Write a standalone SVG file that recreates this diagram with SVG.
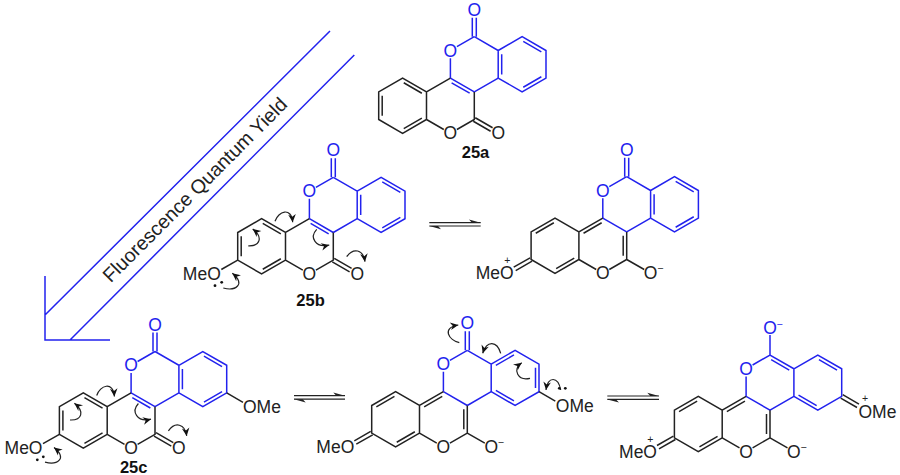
<svg xmlns="http://www.w3.org/2000/svg" width="900" height="475" viewBox="0 0 900 475">
<style>
.b{fill:none;stroke:#2222ee;stroke-width:1.5}
.k{fill:none;stroke:#222;stroke-width:1.5}
.c{fill:none;stroke:#222;stroke-width:1.2;marker-end:url(#h)}
.l{fill:none;stroke:#2222ee;stroke-width:1.5}
.e{stroke:#222;stroke-width:1.2;fill:none}
text{font-family:"Liberation Sans",Arial,sans-serif;font-size:17.5px;fill:#222}
.tb{fill:#2222ee}
.s{font-size:10.5px}
.n{font-weight:bold;font-size:16.5px;text-anchor:middle;fill:#111}
.m{text-anchor:middle}
.d{fill:#111}
</style>
<defs>
<marker id="h" markerUnits="userSpaceOnUse" markerWidth="12" markerHeight="12" viewBox="-10 -6 12 12" refX="0" refY="0" orient="auto"><path d="M0 0L-8 -3.800L-5.500 0L-8 3.800Z" fill="#111" stroke="none"/></marker>
<path id="co" d="M-2 0V-19M2 0V-19"/>
<path id="lac" d="M-17.4 10L0 0M-23.9 21.5V41.4M0 55.2L23.9 41.4"/>
<path id="ra" d="M0 0L23.9 13.8V41.4M27.4 17.5V37.7M23.9 13.8L47.8 0L71.7 13.8V41.4L47.8 55.2L23.9 41.4M48.95 4.66L67.05 15.14M67.05 40.06L48.95 50.54"/>
<path id="rq" d="M0 0L23.9 13.8V41.4M23.9 13.8L47.8 0L71.7 13.8V41.4L47.8 55.2L23.9 41.4M28.55 15.14L46.65 4.66M68.2 17.5V37.7M46.65 50.54L28.55 40.06"/>
<path id="bn" d="M-23.9 41.4L-47.8 55.2L-71.7 41.4L-95.6 55.2V82.8L-71.7 96.6L-47.8 82.8V55.2M-52.45 56.54L-70.55 46.06M-92.1 59V79M-70.55 91.94L-52.45 81.46M-47.8 82.8L-30.5 92.8M-17.4 92.8L0 82.8V55.2M1 81.07L18.3 91.07M-1 84.53L16.3 94.53"/>
<path id="bz" d="M-23.9 41.4L-47.8 55.2L-71.7 41.4L-95.6 55.2V82.8L-71.7 96.6L-47.8 82.8V55.2M-43.15 56.54L-25.05 46.06M-72.85 46.06L-90.95 56.54M-70.55 91.94L-52.45 81.46M-47.8 82.8L-30.5 92.8M-17.4 92.8L0 82.8V55.2M-3.5 59V79M0 82.8L17.5 92.8"/>
<path id="dbl" d="M-94.6 84.5L-111 93.900M-96.6 81.1L-113 90.500"/>
<path id="arL" d="M-58.3 44C-55 34 -42 29 -40.6 45"/>
<path id="arR" d="M-85 68.5C-73 69 -70 60 -80.6 51.700"/>
<path id="arI" d="M-16.6 52C-24 60 -18 71 -4 67.7"/>
<path id="arC" d="M13.4 79.4C20 70 30 72 31.7 84.4"/>
<path id="arO" d="M-110 110.700C-98 114 -87 107 -101 96"/>
</defs>

<g id="connectors">
<path class="l" d="M330 31L45 315M354.300 55L70 340M45 276V340H110"/>
<path class="e" d="M429.300 222.700H480.700M429.300 226H480.700"/>
<path d="M480.700 222.700L469 219.500L472 222.700ZM429.300 226L441 229.200L438 226Z" fill="#222"/>
<path class="e" d="M294 395.700H345M294 399.200H345"/>
<path d="M345 395.700L333.300 392.500L336.300 395.700ZM294 399.200L305.700 402.400L302.700 399.200Z" fill="#222"/>
<path class="e" d="M607.300 396H659M607.300 399.400H659"/>
<path d="M659 396L647.300 392.800L650.300 396ZM607.300 399.400L619 402.600L616 399.400Z" fill="#222"/>
<g transform="translate(333.300 177.300)"><use href="#arL" class="c"/><use href="#arR" class="c"/><use href="#arI" class="c"/><use href="#arC" class="c"/><use href="#arO" class="c"/></g>
<g transform="translate(155 351.500)"><use href="#arL" class="c"/><use href="#arR" class="c"/><use href="#arI" class="c"/><use href="#arC" class="c"/><use href="#arO" class="c"/></g>
<path class="c" d="M459.300 342.700C449 340 441 328 458.300 325"/>
<path class="c" d="M500.700 353.300C497 341 487 340 482.700 353.300"/>
<path class="c" d="M530 378.300C518 381 512 370 521.700 362.700"/>
<path class="c" d="M560.700 390C558 376 548 376 546 390"/>
</g>

<g id="axis-label">
<text transform="translate(195 190) rotate(-45)" y="6.500" class="m" style="font-size:19.600px">Fluorescence Quantum Yield</text>
</g>

<g id="m25a" transform="translate(474.300 36.700)">
<use href="#co" class="b"/><use href="#lac" class="b"/><use href="#ra" class="b"/>
<path class="b" d="M-23.9 41.4L0 55.2M-22.7 46.1L-4.65 56.5"/>
<use href="#bn" class="k"/>
<text class="tb m" y="-21">O</text><text class="tb m" x="-23.900" y="19.900">O</text>
<text class="m" x="-23.900" y="102.700">O</text><text class="m" x="23.900" y="102.700">O</text>
<text class="n" x="1.200" y="121.600">25a</text>
</g>

<g id="m25b" transform="translate(333.300 177.300)">
<use href="#co" class="b"/><use href="#lac" class="b"/><use href="#ra" class="b"/>
<path class="b" d="M-23.9 41.4L0 55.2M-22.7 46.1L-4.65 56.5"/>
<use href="#bn" class="k"/>
<path class="k" d="M-95.6 82.8L-112 92.200"/>
<text class="tb m" y="-21">O</text><text class="tb m" x="-23.900" y="19.900">O</text>
<text class="m" x="-23.900" y="102.700">O</text><text class="m" x="23.900" y="102.700">O</text>
<text x="-112.500" y="102.700" text-anchor="end">MeO</text>
<circle class="d" cx="-118.300" cy="108.400" r="1.400"/><circle class="d" cx="-111.600" cy="105" r="1.400"/>
<text class="n" x="-22.800" y="128.400">25b</text>
</g>

<g id="m25b-res" transform="translate(626.700 176.700)">
<use href="#co" class="b"/><use href="#lac" class="b"/><use href="#ra" class="b"/>
<path class="b" d="M-23.9 41.4L0 55.2"/>
<use href="#bz" class="k"/><use href="#dbl" class="k"/>
<text class="tb m" y="-21">O</text><text class="tb m" x="-23.900" y="19.900">O</text>
<text class="m" x="-23.900" y="102.700">O</text><text class="m" x="23.900" y="102.700">O</text>
<text x="30.500" y="95.500" class="s">−</text>
<text x="-113" y="102.700" text-anchor="end">MeO</text>
<text x="-119.400" y="87.500" class="s m">+</text>
</g>

<g id="m25c" transform="translate(155 351.500)">
<use href="#co" class="b"/><use href="#lac" class="b"/><use href="#ra" class="b"/>
<path class="b" d="M-23.9 41.4L0 55.2M-22.7 46.1L-4.65 56.5"/>
<use href="#bn" class="k"/>
<path class="k" d="M-95.6 82.8L-112 92.200M71.7 41.4L88 50.800"/>
<text class="tb m" y="-21">O</text><text class="tb m" x="-23.900" y="19.900">O</text>
<text class="m" x="-23.900" y="102.700">O</text><text class="m" x="23.900" y="102.700">O</text>
<text x="-112.500" y="102.700" text-anchor="end">MeO</text>
<text x="88" y="61">OMe</text>
<circle class="d" cx="-117.700" cy="108.300" r="1.400"/><circle class="d" cx="-111.700" cy="105.300" r="1.400"/>
<text class="n" x="-21.300" y="121.800">25c</text>
</g>

<g id="m25c-res1" transform="translate(467.300 350.300)">
<use href="#co" class="b"/><use href="#lac" class="b"/><use href="#rq" class="b"/>
<path class="b" d="M-23.9 41.4L0 55.2"/>
<use href="#bz" class="k"/><use href="#dbl" class="k"/>
<path class="k" d="M71.7 41.4L88 50.800"/>
<text class="tb m" y="-21">O</text><text class="tb m" x="-23.900" y="19.900">O</text>
<text class="m" x="-23.900" y="102.700">O</text><text class="m" x="23.900" y="102.700">O</text>
<text x="30.500" y="95.500" class="s">−</text>
<text x="-113" y="102.700" text-anchor="end">MeO</text>
<text x="88.500" y="62">OMe</text>
<circle class="d" cx="92" cy="38" r="1.400"/><circle class="d" cx="98" cy="38" r="1.400"/>
</g>

<g id="m25c-res2" transform="translate(770 355)">
<path class="b" d="M0 -20V0M-17.400 10L0 0L23.900 13.800V41.400M1.150 4.660L19.250 15.140M23.900 13.800L47.800 0L71.700 13.800V41.400L47.800 55.200L23.900 41.400M48.950 4.660L67.050 15.140M46.650 50.540L28.550 40.060M-23.900 21.500V41.400L0 55.200L23.900 41.400"/>
<use href="#bz" class="k"/><use href="#dbl" class="k"/>
<path class="k" d="M70.700 43.130L87 52.500M72.700 39.670L89 49.100"/>
<text class="tb m" y="-21">O</text><text class="tb s" x="6.500" y="-27.500">−</text><text class="tb m" x="-23.900" y="19.900">O</text>
<text class="m" x="-23.900" y="102.700">O</text><text class="m" x="23.900" y="102.700">O</text>
<text x="30.500" y="95.500" class="s">−</text>
<text x="-113" y="102.700" text-anchor="end">MeO</text>
<text x="-119.600" y="87.500" class="s m">+</text>
<text x="88.500" y="62.500">OMe</text>
<text x="95" y="46.500" class="s m">+</text>
</g>
</svg>
